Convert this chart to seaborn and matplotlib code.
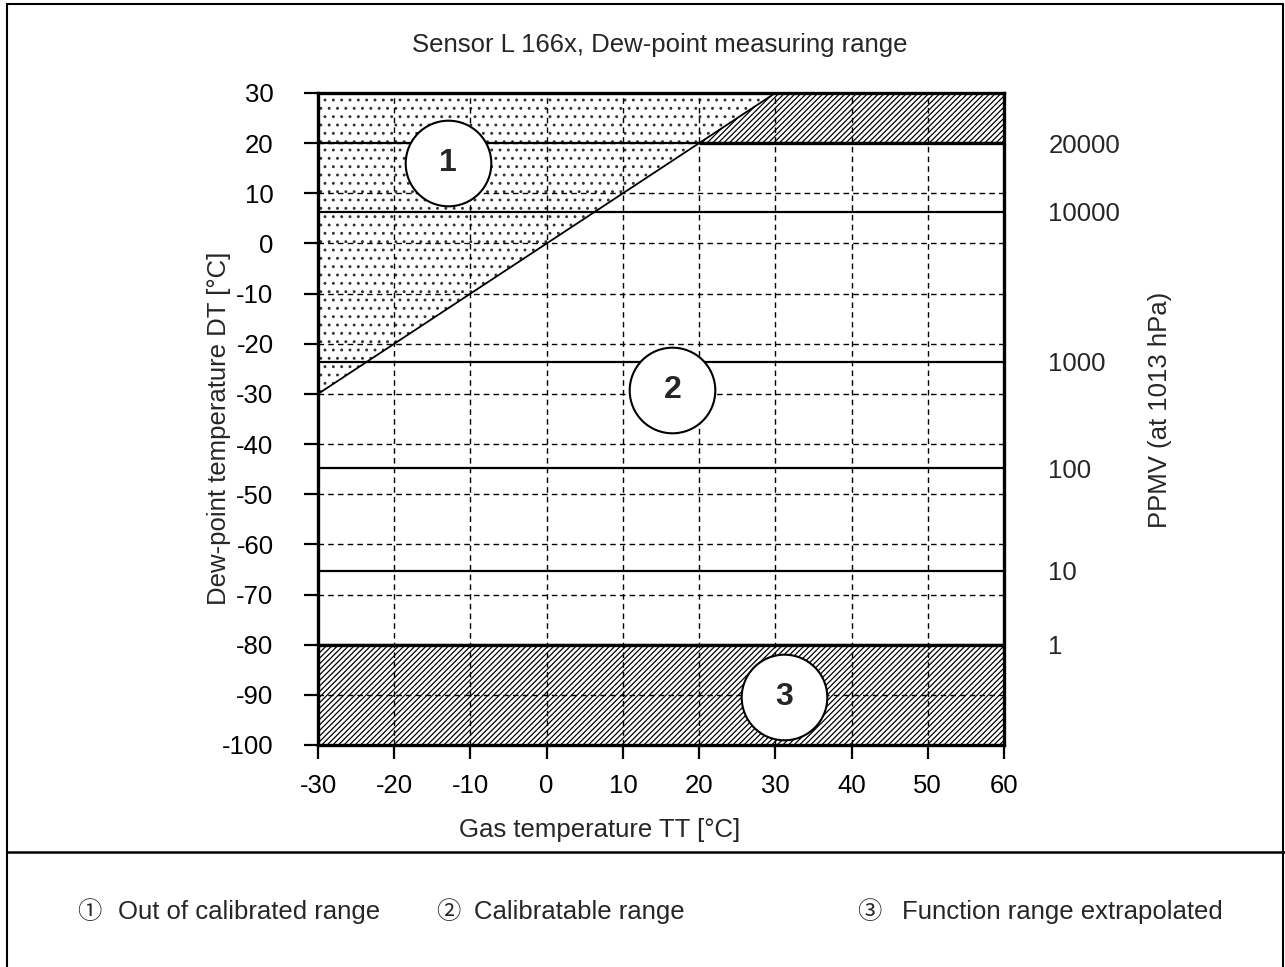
import numpy as np
import pandas as pd
import matplotlib.pyplot as plt
import seaborn as sns

# values
diag_tt = [-30, 30]
diag_dt = [-30, 30]
ppmv_dt = [20, 6.3, -23.6, -44.8, -65.3, -80]
ppmv_labels = ['20000', '10000', '1000', '100', '10', '1']
zone_tt = [-13.0, 16.5, 31.2]
zone_dt = [16.0, -29.2, -90.4]
zone_labels = ['1', '2', '3']
top_hatch_tt = [20, 30, 60]
top_hatch_hi = [20, 30, 30]
legend_marks = ['\u2460', '\u2461', '\u2462']
legend_texts = ['Out of calibrated range', 'Calibratable range', 'Function range extrapolated']

sns.set_style('ticks')
plt.rcParams['font.family'] = ['Liberation Sans', 'Noto Sans CJK JP', 'DejaVu Sans']
plt.rcParams['axes.unicode_minus'] = False
plt.rcParams['hatch.linewidth'] = 0.9
plt.rcParams['hatch.color'] = 'black'

fs = 18.5
fig = plt.figure(figsize=(12.85, 9.67), dpi=100)
ax = fig.add_axes([318 / 1285, 1 - 745 / 967, 686 / 1285, 652 / 967])
ax.set_axisbelow('line')

# shaded zones
ax.fill_between(diag_tt, diag_dt, 30, facecolor='white', edgecolor='#333333', hatch='..', linewidth=0)
ax.fill_between(top_hatch_tt, 20, top_hatch_hi, facecolor='white', edgecolor='black', hatch='//////', linewidth=0)
ax.fill_between([-30, 60], -100, -80, facecolor='white', edgecolor='black', hatch='//////', linewidth=0)

# ppmv level lines
ax.hlines(ppmv_dt, -30, 60, color='black', linewidth=1.6, zorder=3)
ax.hlines([20, -80], [20, -30], [60, 60], color='black', linewidth=2.4, zorder=3)

# saturation line TT = DT
sns.lineplot(x=diag_tt, y=diag_dt, ax=ax, color='black', linewidth=1.3, zorder=3)

# zone markers
sns.scatterplot(x=zone_tt, y=zone_dt, ax=ax, s=3800, color='white', edgecolor='black',
                linewidth=1.5, zorder=5, legend=False)
for x, y, t in zip(zone_tt, zone_dt, zone_labels):
    ax.text(x, y, t, ha='center', va='center', fontsize=23, fontweight='bold', zorder=6)

ax.set_xlim(-30, 60)
ax.set_ylim(-100, 30)
ax.set_xticks(np.arange(-30, 61, 10))
ax.set_yticks(np.arange(-100, 31, 10))
ax.grid(True, color='black', linestyle=(0, (4, 3)), linewidth=1.0)
ax.tick_params(axis='both', direction='out', length=10, width=1.6, labelsize=fs, colors='black')
ax.tick_params(axis='y', pad=22)
ax.tick_params(axis='x', pad=11)
for s in ax.spines.values():
    s.set_linewidth(2.4)
    s.set_color('black')

ax2 = ax.twinx()
ax2.set_ylim(-100, 30)
ax2.set_yticks(ppmv_dt)
ax2.set_yticklabels(ppmv_labels)
ax2.tick_params(axis='y', length=0, pad=32, labelsize=fs)
for s in ax2.spines.values():
    s.set_visible(False)

fig.text(660 / 1285, 1 - 45 / 967, 'Sensor L 166x, Dew-point measuring range', ha='center', va='center', fontsize=fs)
fig.text(600 / 1285, 1 - 830 / 967, 'Gas temperature TT [\u00b0C]', ha='center', va='center', fontsize=fs)
fig.text(219 / 1285, 1 - 428 / 967, 'Dew-point temperature DT [\u00b0C]', ha='center', va='center',
         rotation=90, fontsize=fs)
fig.text(1160 / 1285, 1 - 410 / 967, 'PPMV (at 1013 hPa)', ha='center', va='center', rotation=90, fontsize=fs)

# legend row
mark_x = [89, 448, 869]
text_x = [118, 474, 902]
for mx, tx, m, t in zip(mark_x, text_x, legend_marks, legend_texts):
    fig.text(mx / 1285, 1 - 912 / 967, m, ha='center', va='center', fontsize=fs - 1,
             family=['Noto Sans CJK JP', 'DejaVu Sans'])
    fig.text(tx / 1285, 1 - 912 / 967, t, ha='left', va='center', fontsize=fs)

# outer frame and separator
fig.add_artist(plt.Line2D([7 / 1285, 7 / 1285], [0, 1 - 4 / 967], color='black', linewidth=1.5))
fig.add_artist(plt.Line2D([7 / 1285, 1283 / 1285], [1 - 4 / 967, 1 - 4 / 967], color='black', linewidth=1.5))
fig.add_artist(plt.Line2D([1283 / 1285, 1283 / 1285], [0, 1 - 4 / 967], color='black', linewidth=1.5))
fig.add_artist(plt.Line2D([7 / 1285, 1], [1 - 852 / 967, 1 - 852 / 967], color='black', linewidth=1.8))

fig.savefig('out.png', dpi=100)
